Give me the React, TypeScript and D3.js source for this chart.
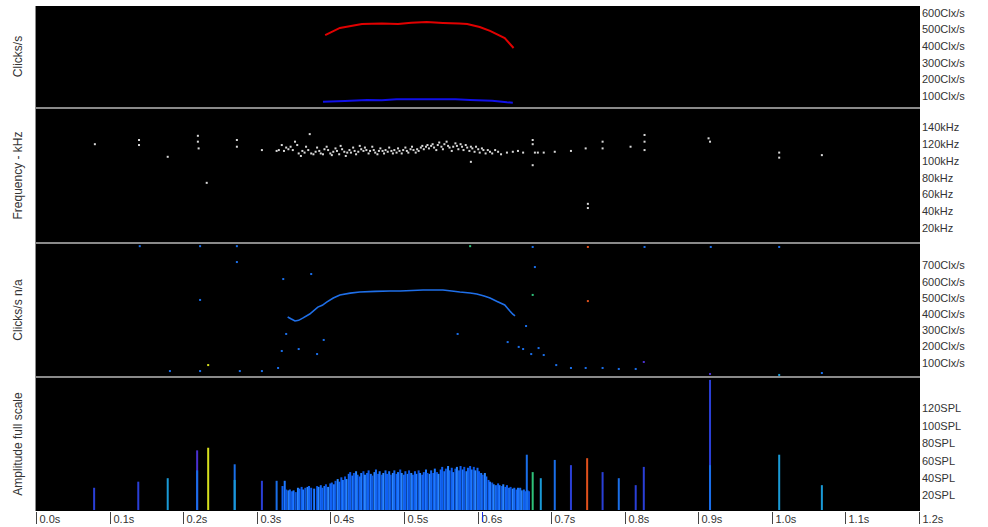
import React, { useRef, useEffect } from "react";
import * as d3 from "d3";

// tick labels
const timeTicks = [0, 0.1, 0.2, 0.3, 0.4, 0.5, 0.6, 0.7, 0.8, 0.9, 1.0, 1.1, 1.2];
const clickTicks = [100, 200, 300, 400, 500, 600];
const freqTicks = [20, 40, 60, 80, 100, 120, 140];
const clickNaTicks = [100, 200, 300, 400, 500, 600, 700];
const splTicks = [20, 40, 60, 80, 100, 120];

// panel 1: click rate lines [time s, clicks/s]
const clickRed: [number, number][] = [
  [0.393, 467], [0.413, 510], [0.443, 534], [0.47, 536], [0.492, 534], [0.51, 541],
  [0.531, 546], [0.553, 540], [0.575, 536], [0.586, 534], [0.603, 516], [0.617, 492],
  [0.637, 449], [0.649, 389],
];
const clickBlue: [number, number][] = [
  [0.39, 66], [0.42, 70], [0.45, 76], [0.47, 74], [0.49, 80], [0.53, 80], [0.57, 80],
  [0.59, 76], [0.62, 72], [0.64, 62], [0.648, 60],
];

// panel 2: click peak frequency [time s, kHz]
const freqPoints: [number, number][] = [
  [0.08, 120], [0.14, 125], [0.14, 119], [0.179, 105], [0.22, 130], [0.22, 123], [0.221, 115],
  [0.232, 74], [0.273, 125], [0.273, 117], [0.307, 113], [0.327, 112], [0.372, 132],
  [0.33, 113], [0.334, 119], [0.337, 112], [0.34, 116], [0.343, 114], [0.346, 117], [0.349, 113],
  [0.352, 123], [0.355, 119], [0.357, 109], [0.36, 106], [0.362, 112], [0.365, 110], [0.367, 117],
  [0.37, 113], [0.374, 109], [0.377, 108], [0.38, 111], [0.382, 116], [0.385, 112], [0.387, 109],
  [0.39, 108], [0.392, 114], [0.395, 117], [0.397, 113], [0.4, 109], [0.402, 107], [0.404, 111],
  [0.407, 115], [0.409, 112], [0.412, 108], [0.414, 118], [0.416, 114], [0.419, 111], [0.421, 106],
  [0.423, 110], [0.426, 113], [0.428, 110], [0.431, 116], [0.433, 112], [0.435, 108], [0.438, 111],
  [0.44, 118], [0.442, 114], [0.445, 112], [0.447, 116], [0.449, 113], [0.452, 109], [0.454, 112],
  [0.457, 117], [0.459, 113], [0.461, 110], [0.464, 108], [0.466, 112], [0.468, 115], [0.471, 112],
  [0.473, 109], [0.475, 113], [0.478, 111], [0.48, 116], [0.483, 112], [0.485, 109], [0.487, 113],
  [0.49, 110], [0.492, 115], [0.494, 112], [0.497, 109], [0.499, 113], [0.502, 116], [0.504, 112],
  [0.506, 110], [0.509, 114], [0.511, 117], [0.513, 113], [0.516, 110], [0.518, 114], [0.52, 112],
  [0.523, 116], [0.525, 118], [0.527, 114], [0.53, 117], [0.532, 119], [0.534, 115], [0.537, 118],
  [0.539, 120], [0.541, 116], [0.544, 113], [0.546, 119], [0.548, 122], [0.551, 117], [0.553, 114],
  [0.555, 120], [0.558, 123], [0.56, 118], [0.562, 116], [0.565, 112], [0.567, 117], [0.57, 121],
  [0.572, 118], [0.574, 114], [0.577, 120], [0.579, 117], [0.581, 113], [0.584, 119], [0.586, 116],
  [0.589, 112], [0.591, 117], [0.593, 115], [0.596, 111], [0.598, 117], [0.601, 114], [0.603, 110],
  [0.606, 115], [0.608, 113], [0.611, 109], [0.614, 113], [0.617, 111], [0.62, 109], [0.624, 113],
  [0.628, 111], [0.632, 108], [0.64, 110], [0.648, 111], [0.655, 112], [0.662, 110],
  [0.591, 99], [0.675, 125], [0.675, 120], [0.675, 95], [0.678, 110], [0.682, 110], [0.69, 110],
  [0.705, 111], [0.727, 112], [0.747, 115], [0.75, 49], [0.75, 44], [0.77, 123], [0.77, 115],
  [0.808, 117], [0.827, 131], [0.827, 123], [0.827, 113], [0.914, 127], [0.916, 123],
  [1.01, 110], [1.01, 104], [1.068, 107],
];

// panel 3: click rate n/a train [time s, clicks/s]
const clickNaCurve: [number, number][] = [
  [0.342, 383], [0.347, 370], [0.352, 358], [0.357, 362], [0.363, 377], [0.372, 401],
  [0.383, 444], [0.389, 455], [0.395, 475], [0.404, 500], [0.413, 519], [0.427, 530],
  [0.44, 537], [0.461, 541], [0.481, 543], [0.495, 543], [0.511, 546], [0.526, 549],
  [0.542, 549], [0.553, 549], [0.565, 543], [0.576, 537], [0.59, 531], [0.599, 525],
  [0.609, 512], [0.617, 500], [0.626, 480], [0.637, 457], [0.644, 420], [0.648, 400], [0.651, 389],
];
// [time s, clicks/s, category]
const clickNaScatter: [number, number, number][] = [
  [0.141, 820, 0], [0.223, 820, 0], [0.273, 820, 0], [0.59, 820, 3], [0.675, 815, 0],
  [0.75, 815, 4], [0.827, 815, 0], [0.917, 815, 0], [1.01, 815, 0], [0.223, 488, 0],
  [0.273, 722, 0], [0.336, 617, 0], [0.374, 648, 0], [0.34, 278, 0], [0.391, 241, 0],
  [0.334, 173, 0], [0.357, 185, 0], [0.382, 154, 0], [0.307, 49, 0], [0.329, 68, 0],
  [0.573, 278, 0], [0.678, 691, 0], [0.675, 519, 3], [0.75, 481, 4], [0.666, 327, 0],
  [0.641, 228, 0], [0.656, 198, 0], [0.662, 185, 0], [0.683, 191, 0], [0.673, 154, 0],
  [0.69, 148, 0], [0.707, 86, 0], [0.727, 68, 0], [0.747, 68, 0], [0.77, 68, 0],
  [0.792, 62, 0], [0.815, 62, 0], [0.826, 105, 6], [0.916, 31, 6], [1.01, 25, 2],
  [1.068, 37, 0], [0.182, 49, 0], [0.223, 49, 0], [0.234, 86, 5], [0.277, 49, 0],
];

// panel 4: amplitude, isolated clicks [time s, SPL, category]
const ampSparse: [number, number, number][] = [
  [0.079, 29, 1], [0.139, 36, 1], [0.179, 40, 2], [0.219, 72, 6], [0.219, 49, 0],
  [0.234, 75, 5], [0.27, 56, 0], [0.27, 38, 2], [0.307, 37, 1], [0.327, 37, 0],
  [0.658, 29, 0], [0.667, 67, 0], [0.675, 47, 3], [0.686, 40, 2], [0.705, 61, 0],
  [0.727, 55, 1], [0.749, 63, 4], [0.77, 47, 1], [0.792, 40, 0], [0.815, 32, 1],
  [0.826, 53, 1], [0.916, 153, 1], [0.916, 55, 0], [1.01, 67, 2], [1.068, 32, 2],
];
// panel 4: amplitude, click train [time s, SPL]
const ampDense: [number, number][] = [
  [0.335, 31], [0.338, 37], [0.34, 27], [0.343, 26], [0.345, 27], [0.348, 25], [0.35, 26],
  [0.353, 24], [0.356, 29], [0.358, 28], [0.361, 30], [0.363, 27], [0.366, 29], [0.369, 30],
  [0.371, 31], [0.374, 29], [0.378, 28], [0.382, 31], [0.384, 30], [0.387, 32], [0.389, 29],
  [0.392, 31], [0.394, 33], [0.397, 30], [0.4, 34], [0.402, 35], [0.405, 33], [0.407, 37],
  [0.41, 39], [0.412, 36], [0.415, 41], [0.417, 38], [0.42, 42], [0.422, 39], [0.425, 45],
  [0.427, 47], [0.43, 43], [0.432, 46], [0.435, 48], [0.437, 44], [0.44, 42], [0.442, 46],
  [0.445, 48], [0.447, 44], [0.45, 46], [0.452, 49], [0.455, 45], [0.457, 43], [0.46, 47],
  [0.462, 50], [0.465, 45], [0.467, 48], [0.47, 44], [0.472, 46], [0.475, 49], [0.477, 45],
  [0.48, 48], [0.482, 44], [0.485, 46], [0.487, 49], [0.49, 45], [0.492, 47], [0.495, 50],
  [0.497, 46], [0.5, 44], [0.502, 48], [0.505, 45], [0.507, 49], [0.51, 46], [0.512, 44],
  [0.515, 48], [0.517, 45], [0.52, 49], [0.522, 46], [0.525, 44], [0.527, 47], [0.53, 50],
  [0.532, 46], [0.535, 45], [0.537, 49], [0.54, 46], [0.542, 51], [0.545, 47], [0.547, 45],
  [0.55, 50], [0.552, 53], [0.555, 48], [0.557, 51], [0.56, 54], [0.562, 49], [0.565, 52],
  [0.567, 47], [0.57, 51], [0.572, 53], [0.575, 49], [0.577, 54], [0.58, 50], [0.582, 53],
  [0.585, 48], [0.587, 52], [0.59, 54], [0.592, 50], [0.595, 53], [0.597, 49], [0.6, 52],
  [0.602, 48], [0.605, 46], [0.607, 44], [0.61, 46], [0.612, 42], [0.615, 38], [0.617, 36],
  [0.62, 35], [0.622, 33], [0.625, 32], [0.628, 34], [0.63, 32], [0.633, 31], [0.635, 33],
  [0.638, 30], [0.64, 32], [0.643, 29], [0.645, 30], [0.648, 28], [0.65, 29], [0.653, 27],
  [0.655, 29], [0.658, 28], [0.66, 26], [0.663, 27], [0.665, 25], [0.668, 26], [0.67, 25],
];

const catColors = ["#1a6ee8", "#2a3fd6", "#1a9ad6", "#2fc27a", "#e0501c", "#d6e01e", "#4a30d0"];
const denseShades = ["#0f5ff2", "#1e78ff", "#0b55e0", "#2a86ff", "#1468f5"];

function App() {
  const ref = useRef<SVGSVGElement>(null);

  useEffect(() => {
    const W = 988;
    const H = 527;
    const left = 36;
    const right = 920;
    const top = 6;
    const bottom = 511;

    const svg = d3.select(ref.current);
    svg.selectAll("*").remove();
    svg.attr("width", W).attr("height", H);

    const font = "'Liberation Sans', Arial, sans-serif";
    const x = d3.scaleLinear().domain([0, 1.2]).range([36, 919]);

    const panels = [
      { y0: 6, y1: 107, scale: d3.scaleLinear().domain([0, 600]).range([112.6, 13]), ticks: clickTicks, unit: "Clx/s", title: "Clicks/s" },
      { y0: 109, y1: 242, scale: d3.scaleLinear().domain([0, 140]).range([245, 127.4]), ticks: freqTicks, unit: "kHz", title: "Frequency - kHz" },
      { y0: 244, y1: 376, scale: d3.scaleLinear().domain([0, 700]).range([379, 265.6]), ticks: clickNaTicks, unit: "Clx/s", title: "Clicks/s n/a" },
      { y0: 378, y1: 510, scale: d3.scaleLinear().domain([0, 120]).range([513, 408.6]), ticks: splTicks, unit: "SPL", title: "Amplitude full scale" },
    ];

    svg.append("rect").attr("width", W).attr("height", H).attr("fill", "white");
    svg.append("rect")
      .attr("x", left).attr("y", top)
      .attr("width", right - left).attr("height", bottom - top)
      .attr("fill", "black");

    const defs = svg.append("defs");
    panels.forEach((p, i) => {
      defs.append("clipPath").attr("id", `clip${i}`)
        .append("rect").attr("x", left).attr("y", p.y0)
        .attr("width", right - left).attr("height", p.y1 - p.y0 + 1);
    });

    // right labels and titles
    panels.forEach((p) => {
      svg.append("g").selectAll("text").data(p.ticks).enter().append("text")
        .attr("x", 922).attr("y", (d) => p.scale(d))
        .attr("dy", "0.35em")
        .attr("font-family", font).attr("font-size", 11).attr("fill", "#333")
        .text((d) => `${d}${p.unit}`);
      svg.append("text")
        .attr("transform", `translate(22,${(p.y0 + p.y1) / 2}) rotate(-90)`)
        .attr("text-anchor", "middle")
        .attr("font-family", font).attr("font-size", 12).attr("fill", "#333")
        .text(p.title);
    });

    // panel 1
    const g1 = svg.append("g").attr("clip-path", "url(#clip0)");
    const line1 = d3.line<[number, number]>().x((d) => x(d[0])).y((d) => panels[0].scale(d[1]));
    g1.append("path").datum(clickRed).attr("d", line1).attr("fill", "none").attr("stroke", "#e00000").attr("stroke-width", 2);
    g1.append("path").datum(clickBlue).attr("d", line1).attr("fill", "none").attr("stroke", "#1010e8").attr("stroke-width", 2);

    // panel 2
    const g2 = svg.append("g").attr("clip-path", "url(#clip1)");
    g2.selectAll("rect").data(freqPoints).enter().append("rect")
      .attr("x", (d) => x(d[0]) - 1).attr("y", (d) => panels[1].scale(d[1]) - 1)
      .attr("width", 2).attr("height", 2).attr("fill", "#d8d8d8");

    // panel 3
    const g3 = svg.append("g").attr("clip-path", "url(#clip2)");
    const line3 = d3.line<[number, number]>().x((d) => x(d[0])).y((d) => panels[2].scale(d[1]));
    g3.append("path").datum(clickNaCurve).attr("d", line3).attr("fill", "none").attr("stroke", "#1f6fe8").attr("stroke-width", 1.6);
    g3.selectAll("rect").data(clickNaScatter).enter().append("rect")
      .attr("x", (d) => x(d[0]) - 1).attr("y", (d) => Math.max(panels[2].scale(d[1]) - 1, 245))
      .attr("width", 2).attr("height", 2).attr("fill", (d) => catColors[d[2]]);

    // panel 4
    const g4 = svg.append("g").attr("clip-path", "url(#clip3)");
    const base = 510;
    g4.selectAll("rect.dense").data(ampDense).enter().append("rect")
      .attr("class", "dense")
      .attr("x", (d) => x(d[0]) - 1).attr("y", (d) => panels[3].scale(d[1]))
      .attr("width", 2).attr("height", (d) => base - panels[3].scale(d[1]))
      .attr("fill", (d, i) => denseShades[i % denseShades.length]);
    g4.selectAll("rect.sparse").data(ampSparse).enter().append("rect")
      .attr("class", "sparse")
      .attr("x", (d) => x(d[0]) - 1).attr("y", (d) => Math.max(panels[3].scale(d[1]), 379))
      .attr("width", 2).attr("height", (d) => base - Math.max(panels[3].scale(d[1]), 379))
      .attr("fill", (d) => catColors[d[2]]);

    // separators and left border
    [108, 243, 377].forEach((yy) => {
      svg.append("line").attr("x1", left - 1).attr("x2", right).attr("y1", yy).attr("y2", yy)
        .attr("stroke", "#8a8a8a").attr("stroke-width", 2);
    });
    svg.append("line").attr("x1", 35.5).attr("x2", 35.5).attr("y1", top).attr("y2", bottom)
      .attr("stroke", "#8a8a8a").attr("stroke-width", 1);

    // time axis
    const ax = svg.append("g");
    const tk = ax.selectAll("g").data(timeTicks).enter().append("g")
      .attr("transform", (d) => `translate(${Math.round(x(d)) + 0.5},0)`);
    tk.append("line").attr("y1", 512).attr("y2", 524).attr("stroke", "#444");
    tk.append("text").attr("x", 3).attr("y", 523)
      .attr("font-family", font).attr("font-size", 11).attr("fill", "#333")
      .text((d) => `${d.toFixed(1)}s`);
    // cursor marker
    ax.append("line").attr("x1", 482.5).attr("x2", 482.5).attr("y1", 512).attr("y2", 522)
      .attr("stroke", "#2030e0").attr("stroke-width", 1);
  }, []);

  return <svg ref={ref} style={{ position: "absolute", left: 0, top: 0, display: "block" }}></svg>;
}

export default App;
